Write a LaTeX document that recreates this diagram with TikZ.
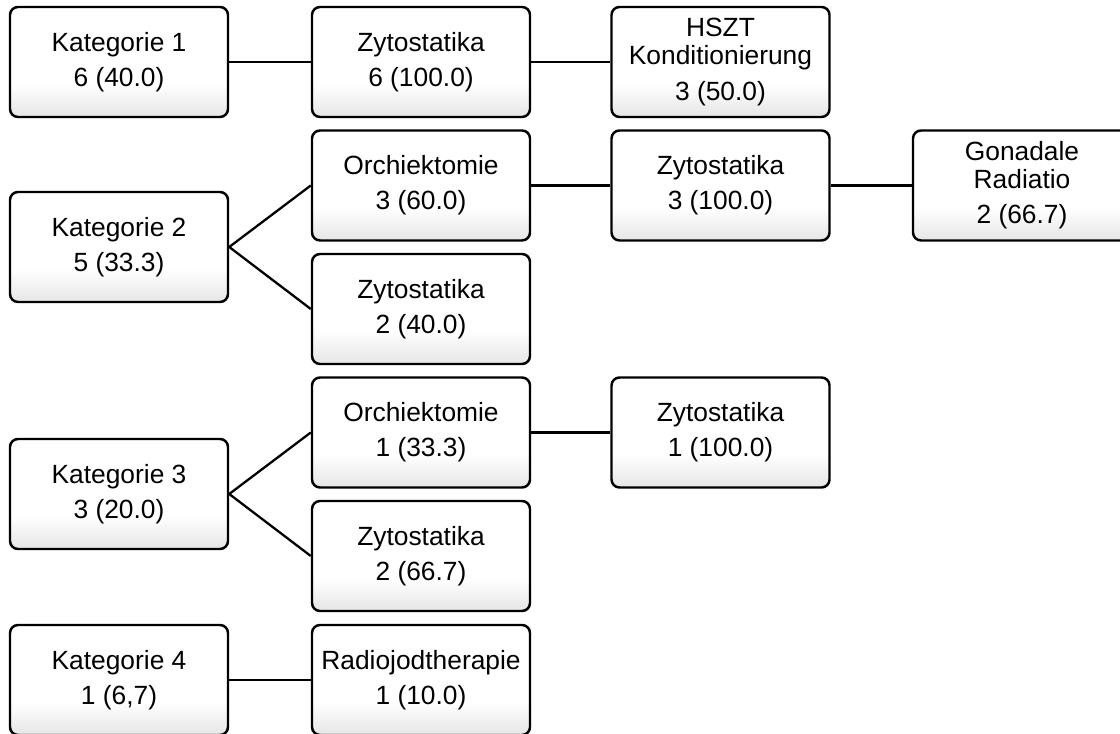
\documentclass[tikz,border=0pt]{standalone}
\usepackage{fontspec}
\setmainfont{Liberation Sans}
\usepackage{tikz}

\pgfdeclareverticalshading{boxshade}{100bp}{color(0bp)=(black!10); color(25bp)=(black!10); color(40bp)=(white); color(100bp)=(white)}

\begin{document}
\begin{tikzpicture}
\useasboundingbox (0,0) rectangle (22.4,14.66);
\begin{scope}[every node/.style={draw, rounded corners=0.16cm, line width=1.4pt,
                minimum width=4.36cm, minimum height=2.2cm, inner sep=0pt, align=center,
                shading=boxshade,
                font=\fontsize{15pt}{16pt}\selectfont}]
    \node (Kat1) at (2.38,13.42) {Kategorie 1\\[4pt]6 (40.0)};
    \node (Zyto1) at (8.42,13.42) {Zytostatika\\[4pt]6 (100.0)};
    \node (HSZT) at (14.41,13.42) {HSZT\\Konditionierung\\[4pt]3 (50.0)};

    \node (Kat2) at (2.38,9.72) {Kategorie 2\\[4pt]5 (33.3)};
    \node (Orch2) at (8.42,10.95) {Orchiektomie\\[4pt]3 (60.0)};
    \node (Zyto2) at (14.41,10.95) {Zytostatika\\[4pt]3 (100.0)};
    \node (Gonad) at (20.44,10.95) {Gonadale\\Radiatio\\[4pt]2 (66.7)};
    \node (Zyto2b) at (8.42,8.48) {Zytostatika\\[4pt]2 (40.0)};

    \node (Kat3) at (2.38,4.78) {Kategorie 3\\[4pt]3 (20.0)};
    \node (Orch3) at (8.42,6.01) {Orchiektomie\\[4pt]1 (33.3)};
    \node (Zyto3) at (14.41,6.01) {Zytostatika\\[4pt]1 (100.0)};
    \node (Zyto3b) at (8.42,3.54) {Zytostatika\\[4pt]2 (66.7)};

    \node (Kat4) at (2.38,1.06) {Kategorie 4\\[4pt]1 (6,7)};
    \node (Radio) at (8.42,1.06) {Radiojodtherapie\\[4pt]1 (10.0)};
\end{scope}

\begin{scope}[every edge/.style={draw=black, line width=1.3pt}]
    \path (Kat1.east) edge (Zyto1.west);
    \path (Zyto1.east) edge (HSZT.west);
    \path (Kat2.east) edge (Orch2.west);
    \path (Kat2.east) edge (Zyto2b.west);
    \path (Orch2.east) edge (Zyto2.west);
    \path (Zyto2.east) edge (Gonad.west);
    \path (Kat3.east) edge (Orch3.west);
    \path (Kat3.east) edge (Zyto3b.west);
    \path (Orch3.east) edge (Zyto3.west);
    \path (Kat4.east) edge (Radio.west);
\end{scope}
\end{tikzpicture}
\end{document}
